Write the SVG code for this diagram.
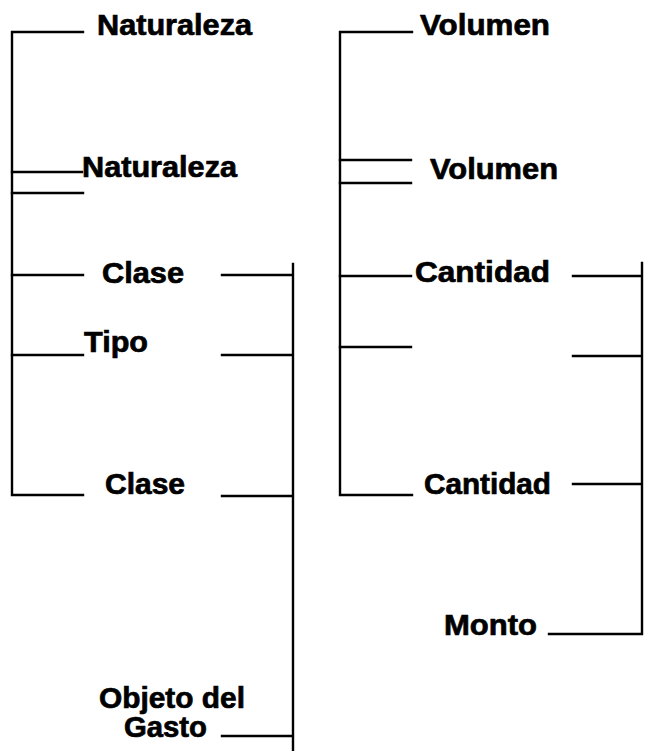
<svg xmlns="http://www.w3.org/2000/svg" width="645" height="751" viewBox="0 0 645 751">
<style>
.t{font-family:"Liberation Sans",Arial,Helvetica,sans-serif;font-weight:bold;font-size:29px;fill:#000;stroke:#000;stroke-width:0.7}
.c{stroke:#000;stroke-width:2.4;fill:none;stroke-linecap:square}
</style>
<rect width="645" height="751" fill="#fff"/>
<g id="connectors" class="c">
<path d="M83 32H12V495H83"/>
<path d="M12 172H82M12 193H83M12 275H83M12 355H83"/>
<path d="M222 275H293M222 355H293M222 496H293M222 736H292M293 264V751"/>
<path d="M412 32H340V495H412"/>
<path d="M340 160H411M340 183H411M340 276H411M340 347H411"/>
<path d="M573 276H642M573 356H642M573 484H642M549 634H642V263"/>
</g>
<g id="n-naturaleza1"><text class="t" x="97" y="35" textLength="155" lengthAdjust="spacingAndGlyphs">Naturaleza</text></g>
<g id="n-naturaleza2"><text class="t" x="82" y="177" textLength="155" lengthAdjust="spacingAndGlyphs">Naturaleza</text></g>
<g id="n-clase1"><text class="t" x="102" y="283" textLength="82" lengthAdjust="spacingAndGlyphs">Clase</text></g>
<g id="n-tipo"><text class="t" x="84" y="352" textLength="64" lengthAdjust="spacingAndGlyphs">Tipo</text></g>
<g id="n-clase2"><text class="t" x="105" y="494" textLength="80" lengthAdjust="spacingAndGlyphs">Clase</text></g>
<g id="n-objeto"><text class="t" x="99" y="708" textLength="146" lengthAdjust="spacingAndGlyphs">Objeto del</text><text class="t" x="124" y="737" textLength="83" lengthAdjust="spacingAndGlyphs">Gasto</text></g>
<g id="n-volumen1"><text class="t" x="420" y="35" textLength="130" lengthAdjust="spacingAndGlyphs">Volumen</text></g>
<g id="n-volumen2"><text class="t" x="430" y="179" textLength="128" lengthAdjust="spacingAndGlyphs">Volumen</text></g>
<g id="n-cantidad1"><text class="t" x="415" y="282" textLength="135" lengthAdjust="spacingAndGlyphs">Cantidad</text></g>
<g id="n-cantidad2"><text class="t" x="424" y="494" textLength="127" lengthAdjust="spacingAndGlyphs">Cantidad</text></g>
<g id="n-monto"><text class="t" x="444" y="635" textLength="93" lengthAdjust="spacingAndGlyphs">Monto</text></g>
</svg>
